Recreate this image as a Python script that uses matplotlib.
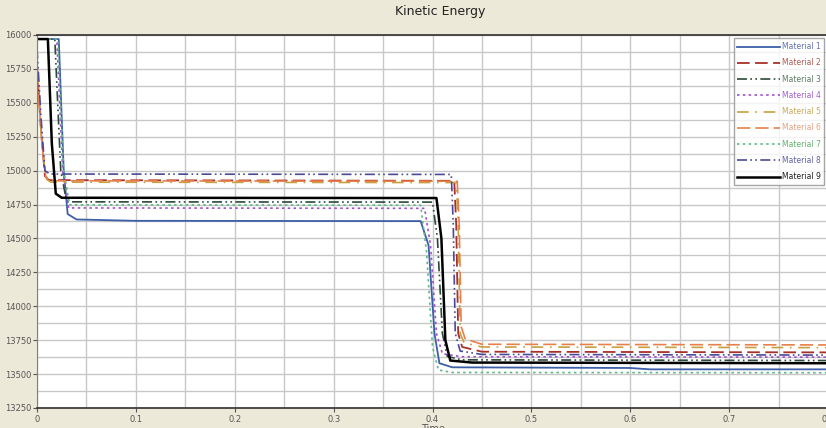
import matplotlib.pyplot as plt
from matplotlib.ticker import MultipleLocator

# breakpoints (time, kinetic energy)
m1_t = [0, 0.022, 0.027, 0.031, 0.04, 0.10, 0.388, 0.396, 0.402, 0.407, 0.42, 0.60, 0.62, 0.80]
m1_y = [15970, 15970, 15000, 14680, 14640, 14630, 14628, 14450, 13800, 13580, 13550, 13545, 13535, 13535]
m2_t = [0, 0.004, 0.008, 0.012, 0.422, 0.424, 0.426, 0.43, 0.45, 0.80]
m2_y = [15780, 15300, 14960, 14930, 14925, 14600, 13800, 13700, 13665, 13660]
m3_t = [0, 0.018, 0.024, 0.03, 0.40, 0.405, 0.41, 0.415, 0.43, 0.80]
m3_y = [15970, 15970, 15000, 14770, 14768, 14500, 13800, 13630, 13605, 13600]
m4_t = [0, 0.02, 0.026, 0.032, 0.392, 0.398, 0.404, 0.41, 0.43, 0.80]
m4_y = [15970, 15970, 15000, 14725, 14722, 14450, 13800, 13650, 13628, 13625]
m5_t = [0, 0.005, 0.009, 0.014, 0.424, 0.426, 0.428, 0.432, 0.45, 0.80]
m5_y = [15720, 15200, 14940, 14915, 14912, 14600, 13800, 13730, 13700, 13695]
m6_t = [0, 0.005, 0.009, 0.014, 0.425, 0.427, 0.429, 0.433, 0.45, 0.80]
m6_y = [15700, 15200, 14950, 14925, 14922, 14600, 13850, 13760, 13720, 13715]
m7_t = [0, 0.021, 0.027, 0.033, 0.388, 0.394, 0.40, 0.406, 0.42, 0.80]
m7_y = [15970, 15970, 15000, 14748, 14745, 14400, 13700, 13530, 13512, 13510]
m8_t = [0, 0.004, 0.008, 0.013, 0.419, 0.421, 0.423, 0.428, 0.45, 0.80]
m8_y = [15900, 15400, 15000, 14975, 14972, 14600, 13800, 13670, 13645, 13640]
m9_t = [0, 0.011, 0.015, 0.019, 0.025, 0.404, 0.409, 0.413, 0.418, 0.44, 0.80]
m9_y = [15970, 15970, 15200, 14830, 14800, 14798, 14500, 13750, 13600, 13585, 13580]

labels = ['Material 1', 'Material 2', 'Material 3', 'Material 4', 'Material 5',
          'Material 6', 'Material 7', 'Material 8', 'Material 9']
series = [(m1_t, m1_y), (m2_t, m2_y), (m3_t, m3_y), (m4_t, m4_y), (m5_t, m5_y),
          (m6_t, m6_y), (m7_t, m7_y), (m8_t, m8_y), (m9_t, m9_y)]
colors = ['#3d5fa8', '#a8302a', '#2c4a3a', '#a050c8', '#c8a040',
          '#e8804a', '#60b888', '#4a4a98', '#000000']
styles = ['-', (0, (7, 3)), (0, (6, 2, 1, 2, 1, 2)), (0, (1.5, 2)), (0, (7, 4, 1, 4)),
          (0, (8, 3)), (0, (1.5, 2)), (0, (6, 2, 1, 2, 1, 2)), '-']
widths = [1.3, 1.3, 1.2, 1.2, 1.2, 1.2, 1.2, 1.2, 1.8]
text_colors = ['#6070b0', '#b05a50', '#5a7a60', '#a060d0', '#c8a858',
               '#e8a080', '#60b070', '#6060a8', '#202020']

fig = plt.figure(figsize=(8.26, 4.28), dpi=100, facecolor='#ece9d8')
ax = fig.add_axes([37 / 826, 20 / 428, 791 / 826, 373 / 428])
ax.set_facecolor('white')

for (t, y), lab, c, ls, lw in zip(series, labels, colors, styles, widths):
    ax.plot(t, y, color=c, linestyle=ls, linewidth=lw, label=lab)

ax.set_xlim(0, 0.8)
ax.set_ylim(13250, 16000)
ax.xaxis.set_major_locator(MultipleLocator(0.1))
ax.xaxis.set_minor_locator(MultipleLocator(0.05))
ax.yaxis.set_major_locator(MultipleLocator(250))
ax.yaxis.set_minor_locator(MultipleLocator(125))
ax.grid(True, which='both', color='#c8c8c8', linewidth=1.0)
ax.set_axisbelow(True)
ax.set_xticklabels([f'{v:g}' for v in ax.get_xticks()])
ax.tick_params(which='major', labelsize=6, colors='#555555', length=3, pad=2)
ax.tick_params(which='minor', length=0)
ax.tick_params(axis='y', pad=1)

for s in ['top', 'bottom']:
    ax.spines[s].set_color('#303030')
    ax.spines[s].set_linewidth(1.2)
ax.spines['left'].set_color('#808080')
ax.spines['right'].set_visible(False)

ax.set_xlabel('Time', fontsize=7, color='#555555', labelpad=0)
fig.text(0.533, 0.972, 'Kinetic Energy', ha='center', va='center', fontsize=9, color='#222222')

leg = ax.legend(loc='upper right', bbox_to_anchor=(0.9975, 0.995), fontsize=5.5, frameon=True,
                fancybox=False, edgecolor='#909090', handlelength=5.5, handletextpad=0.3,
                labelspacing=0.95, borderpad=0.5, borderaxespad=0.2)
for txt, c in zip(leg.get_texts(), text_colors):
    txt.set_color(c)

fig.savefig('out.png', dpi=100, facecolor=fig.get_facecolor())
